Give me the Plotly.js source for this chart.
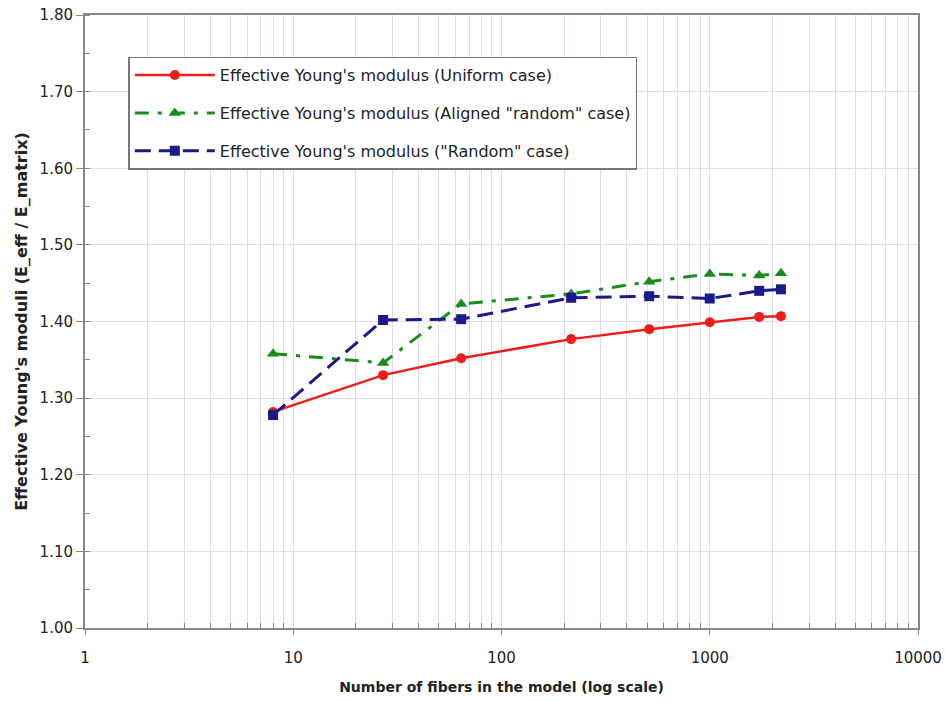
<!DOCTYPE html>
<html>
<head>
<meta charset="utf-8">
<script src="https://cdn.plot.ly/plotly-3.0.1.min.js"></script>
<style>html,body{margin:0;padding:0;background:#fff;}#chart{width:945px;height:702px;}</style>
</head>
<body>
<div id="chart"></div>
<script>
// Data
const fibers = [8, 27, 64, 216, 512, 1000, 1728, 2197];
const uniform = [1.282, 1.330, 1.352, 1.377, 1.390, 1.399, 1.406, 1.407];
const alignedRandom = [1.358, 1.346, 1.423, 1.436, 1.452, 1.462, 1.460, 1.463];
const randomCase = [1.278, 1.402, 1.403, 1.431, 1.433, 1.430, 1.440, 1.442];
const seriesNames = [
  "Effective Young's modulus (Uniform case)",
  "Effective Young's modulus (Aligned \"random\" case)",
  "Effective Young's modulus (\"Random\" case)"
];
const xTickVals = [1, 10, 100, 1000, 10000];
const xTickText = ["1", "10", "100", "1000", "10000"];

const minorVals = [];
for (let d = 1; d < 10000; d *= 10) {
  for (let k = 2; k <= 9; k++) minorVals.push(k * d);
}

const font = "DejaVu Sans, Verdana, sans-serif";

const traces = [
  {x: fibers, y: uniform, name: seriesNames[0], mode: 'lines+markers', legendgroup: 'a',
   line: {color: '#f01c1c', width: 2.5}, marker: {symbol: 'circle', size: 10, color: '#f01c1c'}},
  {x: fibers, y: alignedRandom, name: seriesNames[1], mode: 'lines+markers', legendgroup: 'b',
   line: {color: '#1a8c1a', width: 3, dash: '14px,9px,4px,9px'}, marker: {symbol: 'triangle-up', size: 11, color: '#1a8c1a'}},
  {x: fibers, y: randomCase, name: seriesNames[2], mode: 'lines+markers', legendgroup: 'c',
   line: {color: '#1a1a8a', width: 3, dash: '16px,8px'}, marker: {symbol: 'square', size: 10, color: '#1a1a8a'}}
];

const layout = {
  width: 945, height: 702,
  margin: {l: 85, r: 27, t: 15, b: 74},
  paper_bgcolor: '#fff', plot_bgcolor: '#fff',
  font: {family: font, size: 15, color: '#222'},
  showlegend: true,
  legend: {
    x: 0.052, y: 0.932, xanchor: 'left', yanchor: 'top',
    bgcolor: '#fff', bordercolor: '#777', borderwidth: 1.5,
    font: {family: font, size: 16, color: '#222'},
    tracegroupgap: 14, itemwidth: 80, traceorder: 'grouped'
  },
  xaxis: {
    type: 'log', range: [0, 4],
    tickmode: 'array', tickvals: xTickVals, ticktext: xTickText,
    ticks: 'outside', ticklen: 5, tickcolor: '#888',
    ticklabelstandoff: 10,
    showgrid: true, gridcolor: '#dcdcf2', gridwidth: 1,
    showline: true, linecolor: '#888', linewidth: 2, mirror: true,
    zeroline: false,
    tickfont: {size: 15},
    minor: {tickmode: 'array', tickvals: minorVals, ticks: 'inside', ticklen: 5, tickcolor: '#888',
            showgrid: true, gridcolor: '#dcdcf2', gridwidth: 1},
    title: {text: '<b>Number of fibers in the model (log scale)</b>', font: {size: 14}, standoff: 16}
  },
  yaxis: {
    range: [1, 1.8], dtick: 0.1, tick0: 1, tickformat: '.2f',
    ticks: 'outside', ticklen: 7, tickcolor: '#888',
    showgrid: true, gridcolor: '#dcdcf2', gridwidth: 1,
    showline: true, linecolor: '#888', linewidth: 2, mirror: true,
    zeroline: false,
    tickfont: {size: 15},
    minor: {dtick: 0.05, ticks: 'inside', ticklen: 5, tickcolor: '#888', showgrid: false},
    title: {text: "<b>Effective Young's moduli (E_eff / E_matrix)</b>", font: {size: 16}, standoff: 8}
  }
};

Plotly.newPlot('chart', traces, layout, {displayModeBar: false, staticPlot: true});
</script>
</body>
</html>
